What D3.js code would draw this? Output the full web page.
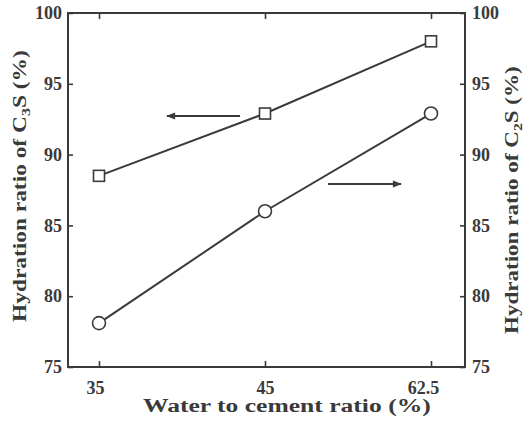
<!DOCTYPE html>
<html>
<head>
<meta charset="utf-8">
<script src="https://cdn.jsdelivr.net/npm/d3@7"></script>
<style>
  html, body { margin: 0; padding: 0; background: #fff; }
  svg { display: block; }
</style>
</head>
<body>
<svg id="chart" width="526" height="424"></svg>
<script>
// Water-to-cement ratio categories (%)
const categories = ["35", "45", "62.5"];
// Hydration ratio of C3S (%), left axis
const c3sValues = [88.5, 92.9, 98.0];
// Hydration ratio of C2S (%), right axis
const c2sValues = [78.1, 86.0, 92.9];
// Shared y tick values for both axes
const yTicks = [75, 80, 85, 90, 95, 100];

const serif = "'Liberation Serif', 'Times New Roman', Times, serif";
const svg = d3.select("#chart");
const ink = "#3a3a3a";
const plot = { left: 68, right: 465, top: 13, bottom: 367 };

const x = d3.scalePoint().domain(categories).range([99, 431]);
const yLeft = d3.scaleLinear().domain([75, 100]).range([plot.bottom, plot.top]);
const yRight = d3.scaleLinear().domain([75, 100]).range([plot.bottom, plot.top]);

// Frame
svg.append("rect")
  .attr("x", plot.left).attr("y", plot.top)
  .attr("width", plot.right - plot.left).attr("height", plot.bottom - plot.top)
  .attr("fill", "none").attr("stroke", ink).attr("stroke-width", 2);

function styleAxis(g) {
  g.attr("font-family", null).attr("font-size", null);
  g.select(".domain").remove();
  g.selectAll(".tick line").attr("stroke", ink).attr("stroke-width", 1.6);
  g.selectAll(".tick text")
    .style("font-family", serif)
    .style("font-size", "18px").style("font-weight", "bold").attr("fill", ink);
}

// Bottom axis: ticks pointing inward
const xAxisG = svg.append("g").attr("transform", `translate(0,${plot.bottom})`)
  .call(d3.axisBottom(x).tickSizeInner(-6).tickSizeOuter(0).tickPadding(14))
  .call(styleAxis);
// the outer labels sit slightly left of their ticks
xAxisG.selectAll(".tick text").attr("dx", d => d === "35" ? -4 : d === "62.5" ? -8 : 0);

// Top axis: inward ticks only
svg.append("g").attr("transform", `translate(0,${plot.top})`)
  .call(d3.axisTop(x).tickSizeInner(-6).tickSizeOuter(0).tickFormat(""))
  .call(styleAxis);
// Left axis
svg.append("g").attr("transform", `translate(${plot.left},0)`)
  .call(d3.axisLeft(yLeft).tickValues(yTicks).tickSizeInner(-5).tickSizeOuter(0).tickPadding(6))
  .call(styleAxis);
// Right axis
svg.append("g").attr("transform", `translate(${plot.right},0)`)
  .call(d3.axisRight(yRight).tickValues(yTicks).tickSizeInner(-5).tickSizeOuter(0).tickPadding(7))
  .call(styleAxis);

// C3S series: line with open squares
const c3s = categories.map((c, i) => ({ c, v: c3sValues[i] }));
svg.append("path").datum(c3s)
  .attr("d", d3.line().x(d => x(d.c)).y(d => yLeft(d.v)))
  .attr("fill", "none").attr("stroke", ink).attr("stroke-width", 2);
svg.selectAll(".sq").data(c3s).join("rect")
  .attr("x", d => x(d.c) - 5.5).attr("y", d => yLeft(d.v) - 5.5)
  .attr("width", 11).attr("height", 11)
  .attr("fill", "#fff").attr("stroke", ink).attr("stroke-width", 1.6);

// C2S series: line with open circles
const c2s = categories.map((c, i) => ({ c, v: c2sValues[i] }));
svg.append("path").datum(c2s)
  .attr("d", d3.line().x(d => x(d.c)).y(d => yRight(d.v)))
  .attr("fill", "none").attr("stroke", ink).attr("stroke-width", 2);
svg.selectAll(".ci").data(c2s).join("circle")
  .attr("cx", d => x(d.c)).attr("cy", d => yRight(d.v)).attr("r", 6.5)
  .attr("fill", "#fff").attr("stroke", ink).attr("stroke-width", 1.6);

// Arrows indicating which axis each series uses
const defs = svg.append("defs");
defs.append("marker").attr("id", "head")
  .attr("viewBox", "0 0 10 10").attr("refX", 9).attr("refY", 5)
  .attr("markerWidth", 6).attr("markerHeight", 5).attr("markerUnits", "strokeWidth")
  .attr("orient", "auto")
  .append("path").attr("d", "M0,1 L10,5 L0,9 Z").attr("fill", ink);

svg.append("line")
  .attr("x1", 240).attr("y1", 116).attr("x2", 167).attr("y2", 116)
  .attr("stroke", ink).attr("stroke-width", 1.8).attr("marker-end", "url(#head)");
svg.append("line")
  .attr("x1", 328).attr("y1", 184).attr("x2", 401).attr("y2", 184)
  .attr("stroke", ink).attr("stroke-width", 1.8).attr("marker-end", "url(#head)");

// Axis titles: a wide bold serif, stretched along the reading direction
function stretchedTitle(tx, ty, angle, targetLen, build) {
  const g = svg.append("g");
  const t = g.append("text")
    .style("font-family", serif)
    .style("font-size", "19px").style("font-weight", "bold").attr("fill", ink);
  build(t);
  const w = t.node().getComputedTextLength();
  const sx = targetLen / w;
  g.attr("transform", `translate(${tx},${ty}) rotate(${angle}) scale(${sx},1)`);
}

stretchedTitle(143, 412, 0, 288, t => t.text("Water to cement ratio (%)"));

function yTitleText(sub) {
  return t => {
    t.append("tspan").text("Hydration ratio of C");
    t.append("tspan").attr("dy", 4).style("font-size", "13px").text(sub);
    t.append("tspan").attr("dy", -4).text("S (%)");
  };
}
stretchedTitle(26, 322, -90, 272, yTitleText("3"));
stretchedTitle(518, 334, -90, 268, yTitleText("2"));
</script>
</body>
</html>
